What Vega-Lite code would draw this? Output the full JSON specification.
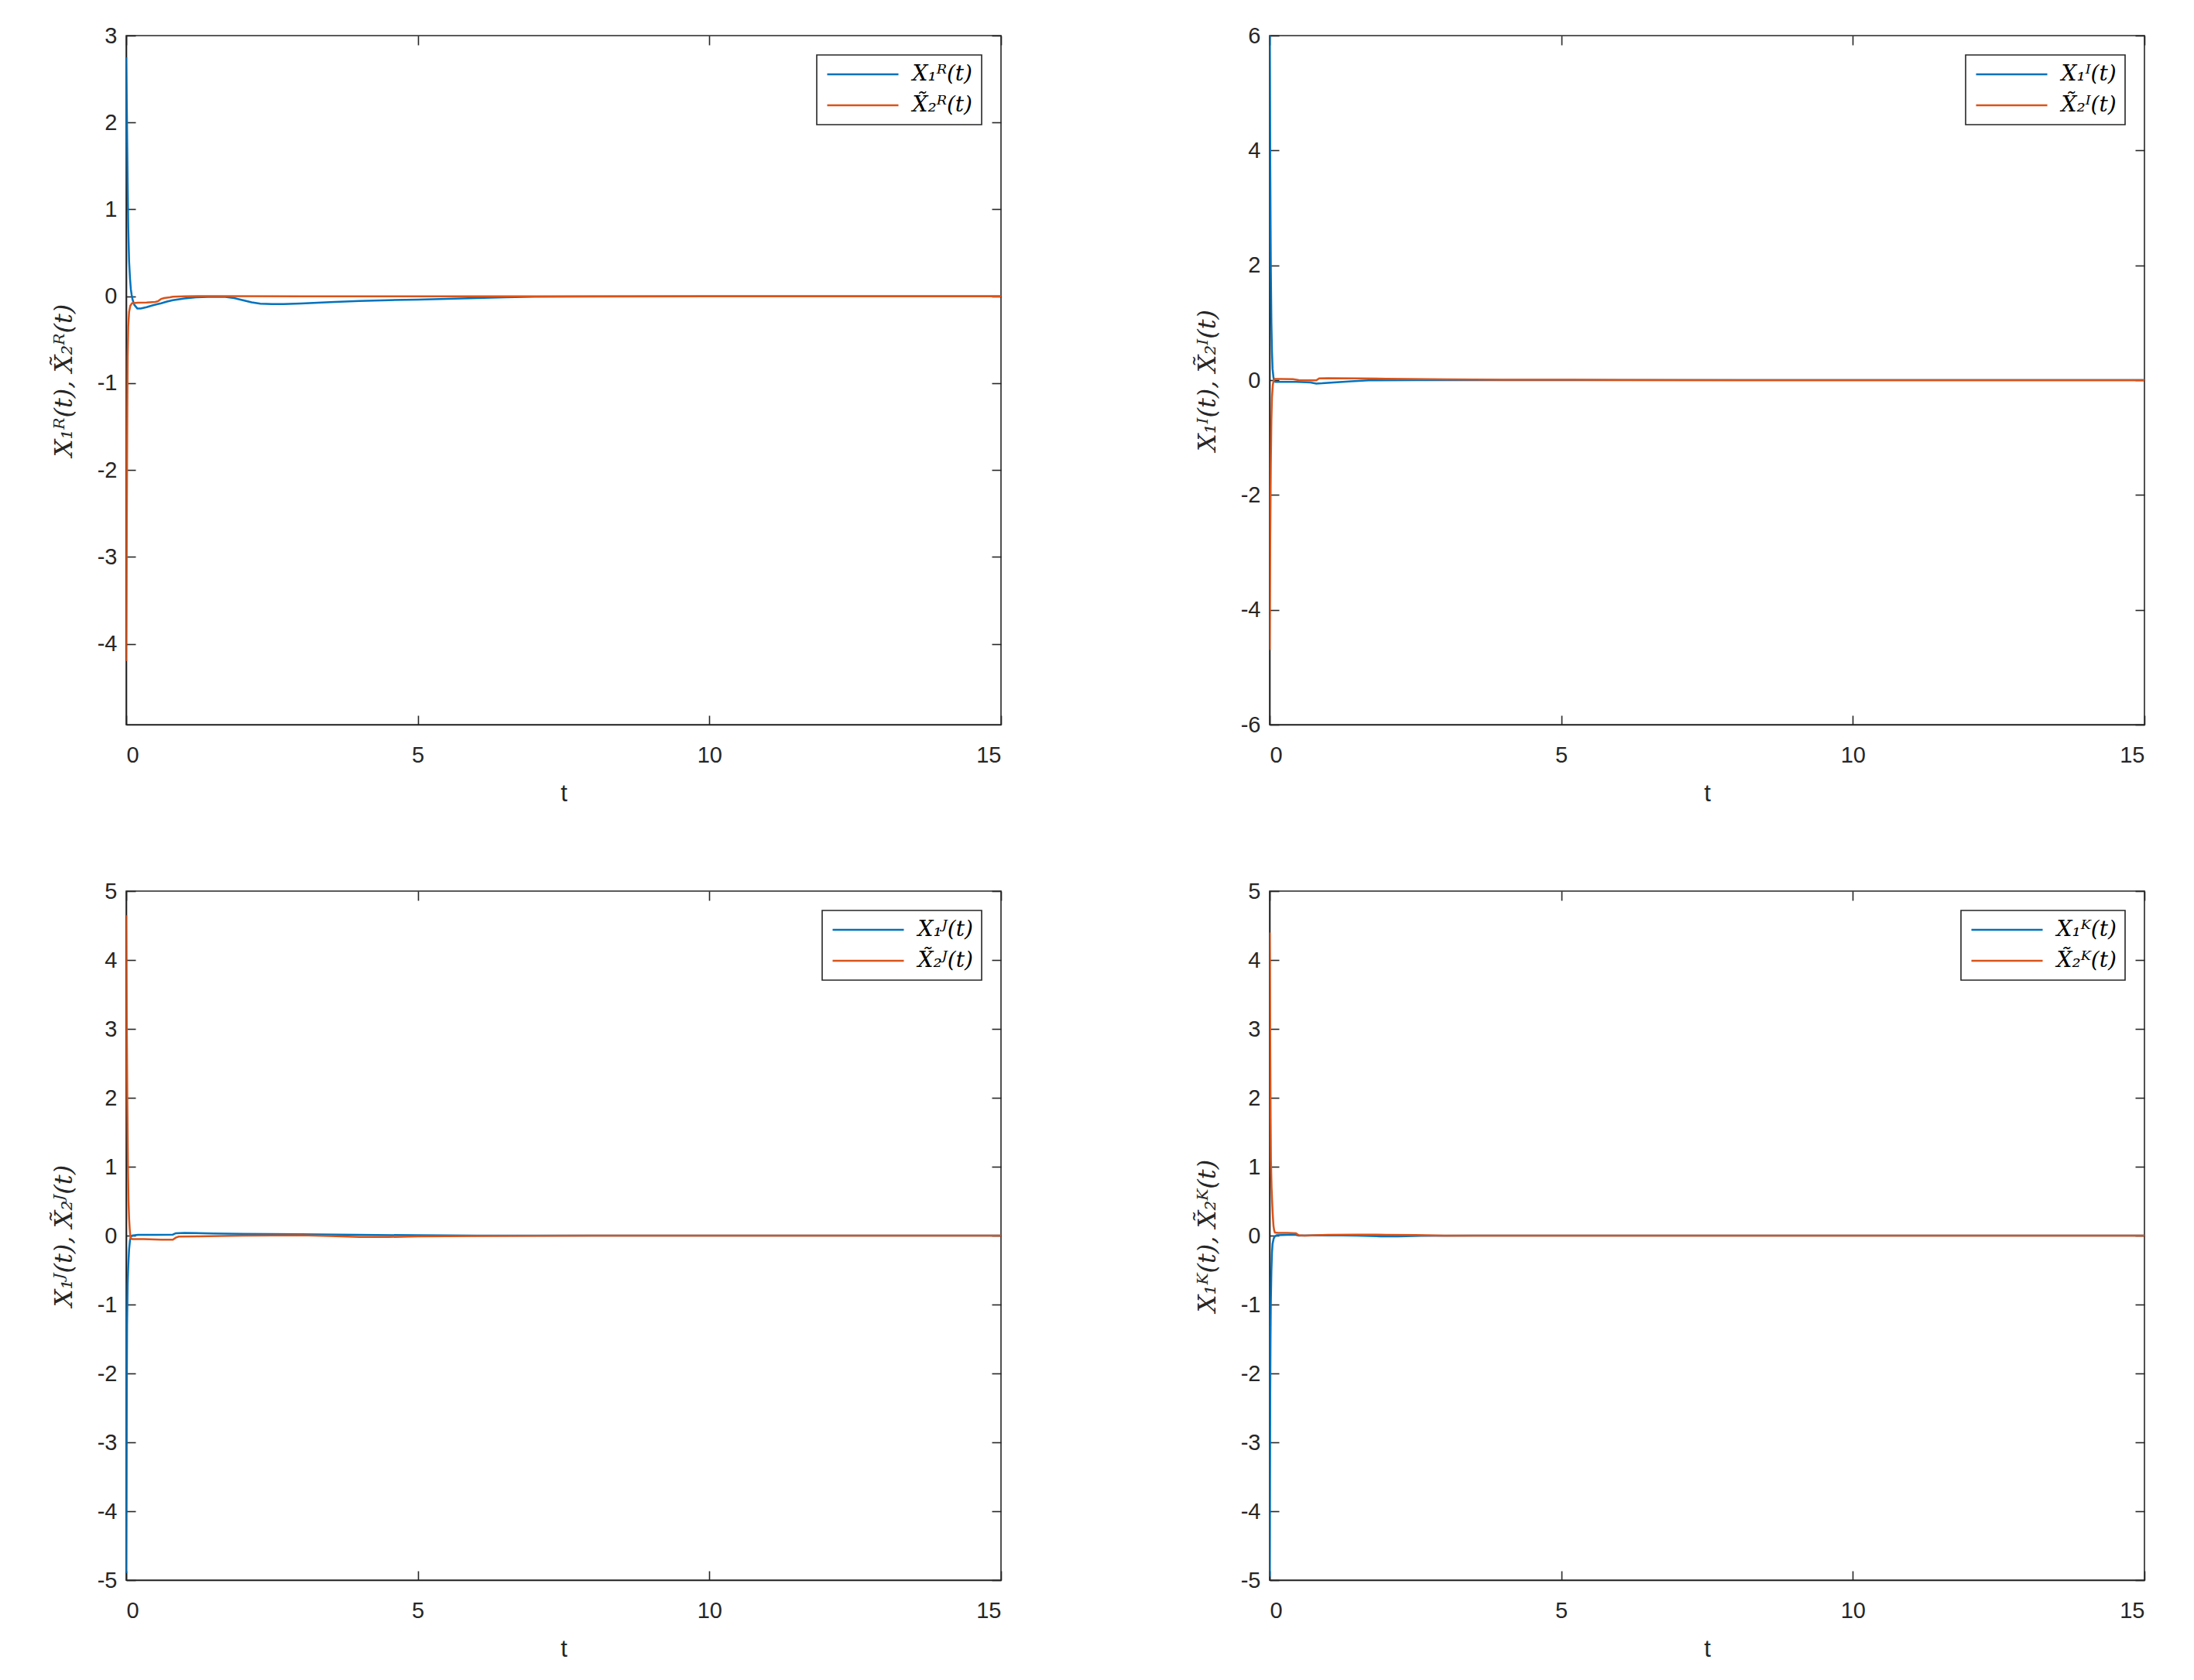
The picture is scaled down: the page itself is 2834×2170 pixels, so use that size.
{
  "$schema": "https://vega.github.io/schema/vega-lite/v6.json",
  "background": "white",
  "padding": {"left": 65, "top": 31, "right": 20, "bottom": 10},
  "datasets": {
    "R": [
      {"t": 0, "v": 2.75, "s": "X₁ᴿ(t)"}, {"t": 0.012, "v": 2.1, "s": "X₁ᴿ(t)"}, {"t": 0.025, "v": 1.3, "s": "X₁ᴿ(t)"}, {"t": 0.035, "v": 0.8, "s": "X₁ᴿ(t)"}, {"t": 0.05, "v": 0.4, "s": "X₁ᴿ(t)"}, {"t": 0.066, "v": 0.2, "s": "X₁ᴿ(t)"}, {"t": 0.08, "v": 0.08, "s": "X₁ᴿ(t)"}, {"t": 0.093, "v": 0.02, "s": "X₁ᴿ(t)"}, {"t": 0.11, "v": -0.04, "s": "X₁ᴿ(t)"}, {"t": 0.14, "v": -0.1, "s": "X₁ᴿ(t)"}, {"t": 0.19, "v": -0.14, "s": "X₁ᴿ(t)"}, {"t": 0.25, "v": -0.14, "s": "X₁ᴿ(t)"}, {"t": 0.35, "v": -0.125, "s": "X₁ᴿ(t)"}, {"t": 0.45, "v": -0.105, "s": "X₁ᴿ(t)"}, {"t": 0.54, "v": -0.09, "s": "X₁ᴿ(t)"}, {"t": 0.6, "v": -0.08, "s": "X₁ᴿ(t)"}, {"t": 0.7, "v": -0.06, "s": "X₁ᴿ(t)"}, {"t": 0.8, "v": -0.045, "s": "X₁ᴿ(t)"}, {"t": 1.0, "v": -0.025, "s": "X₁ᴿ(t)"}, {"t": 1.2, "v": -0.012, "s": "X₁ᴿ(t)"}, {"t": 1.5, "v": -0.006, "s": "X₁ᴿ(t)"}, {"t": 1.7, "v": -0.008, "s": "X₁ᴿ(t)"}, {"t": 1.85, "v": -0.02, "s": "X₁ᴿ(t)"}, {"t": 2.0, "v": -0.045, "s": "X₁ᴿ(t)"}, {"t": 2.15, "v": -0.07, "s": "X₁ᴿ(t)"}, {"t": 2.3, "v": -0.085, "s": "X₁ᴿ(t)"}, {"t": 2.5, "v": -0.09, "s": "X₁ᴿ(t)"}, {"t": 2.7, "v": -0.09, "s": "X₁ᴿ(t)"}, {"t": 3.0, "v": -0.082, "s": "X₁ᴿ(t)"}, {"t": 3.5, "v": -0.068, "s": "X₁ᴿ(t)"}, {"t": 4.0, "v": -0.055, "s": "X₁ᴿ(t)"}, {"t": 4.5, "v": -0.045, "s": "X₁ᴿ(t)"}, {"t": 5.0, "v": -0.038, "s": "X₁ᴿ(t)"}, {"t": 5.5, "v": -0.03, "s": "X₁ᴿ(t)"}, {"t": 6.0, "v": -0.02, "s": "X₁ᴿ(t)"}, {"t": 6.5, "v": -0.012, "s": "X₁ᴿ(t)"}, {"t": 7.0, "v": -0.006, "s": "X₁ᴿ(t)"}, {"t": 8.0, "v": -0.002, "s": "X₁ᴿ(t)"}, {"t": 10, "v": 0, "s": "X₁ᴿ(t)"}, {"t": 15, "v": 0, "s": "X₁ᴿ(t)"},
      {"t": 0, "v": -4.2, "s": "X̃₂ᴿ(t)"}, {"t": 0.005, "v": -3.5, "s": "X̃₂ᴿ(t)"}, {"t": 0.01, "v": -2.7, "s": "X̃₂ᴿ(t)"}, {"t": 0.015, "v": -1.9, "s": "X̃₂ᴿ(t)"}, {"t": 0.02, "v": -1.2, "s": "X̃₂ᴿ(t)"}, {"t": 0.025, "v": -0.7, "s": "X̃₂ᴿ(t)"}, {"t": 0.035, "v": -0.35, "s": "X̃₂ᴿ(t)"}, {"t": 0.05, "v": -0.18, "s": "X̃₂ᴿ(t)"}, {"t": 0.07, "v": -0.11, "s": "X̃₂ᴿ(t)"}, {"t": 0.1, "v": -0.08, "s": "X̃₂ᴿ(t)"}, {"t": 0.2, "v": -0.075, "s": "X̃₂ᴿ(t)"}, {"t": 0.35, "v": -0.072, "s": "X̃₂ᴿ(t)"}, {"t": 0.5, "v": -0.065, "s": "X̃₂ᴿ(t)"}, {"t": 0.55, "v": -0.055, "s": "X̃₂ᴿ(t)"}, {"t": 0.6, "v": -0.03, "s": "X̃₂ᴿ(t)"}, {"t": 0.65, "v": -0.02, "s": "X̃₂ᴿ(t)"}, {"t": 0.75, "v": -0.012, "s": "X̃₂ᴿ(t)"}, {"t": 0.8, "v": -0.005, "s": "X̃₂ᴿ(t)"}, {"t": 1.0, "v": 0, "s": "X̃₂ᴿ(t)"}, {"t": 1.5, "v": 0.002, "s": "X̃₂ᴿ(t)"}, {"t": 3.0, "v": 0, "s": "X̃₂ᴿ(t)"}, {"t": 15, "v": 0, "s": "X̃₂ᴿ(t)"}
    ],
    "I": [
      {"t": 0, "v": 6.0, "s": "X₁ᴵ(t)"}, {"t": 0.005, "v": 5.0, "s": "X₁ᴵ(t)"}, {"t": 0.01, "v": 3.8, "s": "X₁ᴵ(t)"}, {"t": 0.02, "v": 2.0, "s": "X₁ᴵ(t)"}, {"t": 0.03, "v": 1.0, "s": "X₁ᴵ(t)"}, {"t": 0.04, "v": 0.5, "s": "X₁ᴵ(t)"}, {"t": 0.05, "v": 0.2, "s": "X₁ᴵ(t)"}, {"t": 0.065, "v": 0.05, "s": "X₁ᴵ(t)"}, {"t": 0.08, "v": -0.02, "s": "X₁ᴵ(t)"}, {"t": 0.1, "v": -0.03, "s": "X₁ᴵ(t)"}, {"t": 0.3, "v": -0.03, "s": "X₁ᴵ(t)"}, {"t": 0.45, "v": -0.03, "s": "X₁ᴵ(t)"}, {"t": 0.55, "v": -0.035, "s": "X₁ᴵ(t)"}, {"t": 0.7, "v": -0.04, "s": "X₁ᴵ(t)"}, {"t": 0.8, "v": -0.06, "s": "X₁ᴵ(t)"}, {"t": 0.9, "v": -0.055, "s": "X₁ᴵ(t)"}, {"t": 1.1, "v": -0.04, "s": "X₁ᴵ(t)"}, {"t": 1.4, "v": -0.02, "s": "X₁ᴵ(t)"}, {"t": 1.7, "v": -0.005, "s": "X₁ᴵ(t)"}, {"t": 2.5, "v": 0, "s": "X₁ᴵ(t)"}, {"t": 15, "v": 0, "s": "X₁ᴵ(t)"},
      {"t": 0, "v": -4.7, "s": "X̃₂ᴵ(t)"}, {"t": 0.005, "v": -3.8, "s": "X̃₂ᴵ(t)"}, {"t": 0.01, "v": -2.8, "s": "X̃₂ᴵ(t)"}, {"t": 0.02, "v": -1.5, "s": "X̃₂ᴵ(t)"}, {"t": 0.03, "v": -0.7, "s": "X̃₂ᴵ(t)"}, {"t": 0.04, "v": -0.3, "s": "X̃₂ᴵ(t)"}, {"t": 0.055, "v": -0.08, "s": "X̃₂ᴵ(t)"}, {"t": 0.07, "v": 0, "s": "X̃₂ᴵ(t)"}, {"t": 0.09, "v": 0.02, "s": "X̃₂ᴵ(t)"}, {"t": 0.2, "v": 0.02, "s": "X̃₂ᴵ(t)"}, {"t": 0.4, "v": 0.018, "s": "X̃₂ᴵ(t)"}, {"t": 0.5, "v": 0, "s": "X̃₂ᴵ(t)"}, {"t": 0.6, "v": -0.005, "s": "X̃₂ᴵ(t)"}, {"t": 0.8, "v": -0.005, "s": "X̃₂ᴵ(t)"}, {"t": 0.85, "v": 0.03, "s": "X̃₂ᴵ(t)"}, {"t": 1.0, "v": 0.035, "s": "X̃₂ᴵ(t)"}, {"t": 1.5, "v": 0.03, "s": "X̃₂ᴵ(t)"}, {"t": 2.0, "v": 0.025, "s": "X̃₂ᴵ(t)"}, {"t": 3.0, "v": 0.015, "s": "X̃₂ᴵ(t)"}, {"t": 4.0, "v": 0.008, "s": "X̃₂ᴵ(t)"}, {"t": 6.0, "v": 0.005, "s": "X̃₂ᴵ(t)"}, {"t": 8.0, "v": 0, "s": "X̃₂ᴵ(t)"}, {"t": 15, "v": 0, "s": "X̃₂ᴵ(t)"}
    ],
    "J": [
      {"t": 0, "v": -4.9, "s": "X₁ᴶ(t)"}, {"t": 0.005, "v": -3.8, "s": "X₁ᴶ(t)"}, {"t": 0.01, "v": -2.3, "s": "X₁ᴶ(t)"}, {"t": 0.015, "v": -1.3, "s": "X₁ᴶ(t)"}, {"t": 0.025, "v": -0.7, "s": "X₁ᴶ(t)"}, {"t": 0.035, "v": -0.45, "s": "X₁ᴶ(t)"}, {"t": 0.05, "v": -0.2, "s": "X₁ᴶ(t)"}, {"t": 0.065, "v": -0.07, "s": "X₁ᴶ(t)"}, {"t": 0.08, "v": -0.02, "s": "X₁ᴶ(t)"}, {"t": 0.1, "v": 0, "s": "X₁ᴶ(t)"}, {"t": 0.2, "v": 0.01, "s": "X₁ᴶ(t)"}, {"t": 0.5, "v": 0.012, "s": "X₁ᴶ(t)"}, {"t": 0.8, "v": 0.015, "s": "X₁ᴶ(t)"}, {"t": 0.85, "v": 0.035, "s": "X₁ᴶ(t)"}, {"t": 1.0, "v": 0.04, "s": "X₁ᴶ(t)"}, {"t": 1.5, "v": 0.03, "s": "X₁ᴶ(t)"}, {"t": 2.0, "v": 0.025, "s": "X₁ᴶ(t)"}, {"t": 3.0, "v": 0.02, "s": "X₁ᴶ(t)"}, {"t": 4.0, "v": 0.01, "s": "X₁ᴶ(t)"}, {"t": 5.0, "v": 0.005, "s": "X₁ᴶ(t)"}, {"t": 6.0, "v": 0, "s": "X₁ᴶ(t)"}, {"t": 15, "v": 0, "s": "X₁ᴶ(t)"},
      {"t": 0, "v": 4.65, "s": "X̃₂ᴶ(t)"}, {"t": 0.005, "v": 3.9, "s": "X̃₂ᴶ(t)"}, {"t": 0.01, "v": 3.1, "s": "X̃₂ᴶ(t)"}, {"t": 0.02, "v": 1.9, "s": "X̃₂ᴶ(t)"}, {"t": 0.03, "v": 1.0, "s": "X̃₂ᴶ(t)"}, {"t": 0.04, "v": 0.5, "s": "X̃₂ᴶ(t)"}, {"t": 0.05, "v": 0.25, "s": "X̃₂ᴶ(t)"}, {"t": 0.06, "v": 0.1, "s": "X̃₂ᴶ(t)"}, {"t": 0.07, "v": 0, "s": "X̃₂ᴶ(t)"}, {"t": 0.08, "v": -0.04, "s": "X̃₂ᴶ(t)"}, {"t": 0.1, "v": -0.05, "s": "X̃₂ᴶ(t)"}, {"t": 0.3, "v": -0.05, "s": "X̃₂ᴶ(t)"}, {"t": 0.6, "v": -0.06, "s": "X̃₂ᴶ(t)"}, {"t": 0.8, "v": -0.06, "s": "X̃₂ᴶ(t)"}, {"t": 0.85, "v": -0.03, "s": "X̃₂ᴶ(t)"}, {"t": 0.9, "v": -0.015, "s": "X̃₂ᴶ(t)"}, {"t": 1.2, "v": -0.01, "s": "X̃₂ᴶ(t)"}, {"t": 2.0, "v": 0, "s": "X̃₂ᴶ(t)"}, {"t": 3.0, "v": 0.005, "s": "X̃₂ᴶ(t)"}, {"t": 3.5, "v": -0.005, "s": "X̃₂ᴶ(t)"}, {"t": 4.0, "v": -0.02, "s": "X̃₂ᴶ(t)"}, {"t": 4.5, "v": -0.02, "s": "X̃₂ᴶ(t)"}, {"t": 5.0, "v": -0.01, "s": "X̃₂ᴶ(t)"}, {"t": 6.0, "v": -0.005, "s": "X̃₂ᴶ(t)"}, {"t": 8.0, "v": 0, "s": "X̃₂ᴶ(t)"}, {"t": 15, "v": 0, "s": "X̃₂ᴶ(t)"}
    ],
    "K": [
      {"t": 0, "v": -4.95, "s": "X₁ᴷ(t)"}, {"t": 0.005, "v": -3.5, "s": "X₁ᴷ(t)"}, {"t": 0.01, "v": -2.3, "s": "X₁ᴷ(t)"}, {"t": 0.015, "v": -1.5, "s": "X₁ᴷ(t)"}, {"t": 0.02, "v": -1.0, "s": "X₁ᴷ(t)"}, {"t": 0.03, "v": -0.52, "s": "X₁ᴷ(t)"}, {"t": 0.04, "v": -0.25, "s": "X₁ᴷ(t)"}, {"t": 0.05, "v": -0.12, "s": "X₁ᴷ(t)"}, {"t": 0.07, "v": -0.04, "s": "X₁ᴷ(t)"}, {"t": 0.09, "v": -0.01, "s": "X₁ᴷ(t)"}, {"t": 0.12, "v": 0.005, "s": "X₁ᴷ(t)"}, {"t": 0.3, "v": 0.01, "s": "X₁ᴷ(t)"}, {"t": 0.45, "v": 0.01, "s": "X₁ᴷ(t)"}, {"t": 0.5, "v": 0, "s": "X₁ᴷ(t)"}, {"t": 1.0, "v": 0.005, "s": "X₁ᴷ(t)"}, {"t": 1.5, "v": 0, "s": "X₁ᴷ(t)"}, {"t": 1.9, "v": -0.01, "s": "X₁ᴷ(t)"}, {"t": 2.2, "v": -0.01, "s": "X₁ᴷ(t)"}, {"t": 2.6, "v": -0.003, "s": "X₁ᴷ(t)"}, {"t": 3.5, "v": 0, "s": "X₁ᴷ(t)"}, {"t": 15, "v": 0, "s": "X₁ᴷ(t)"},
      {"t": 0, "v": 4.4, "s": "X̃₂ᴷ(t)"}, {"t": 0.004, "v": 4.0, "s": "X̃₂ᴷ(t)"}, {"t": 0.01, "v": 2.8, "s": "X̃₂ᴷ(t)"}, {"t": 0.016, "v": 1.8, "s": "X̃₂ᴷ(t)"}, {"t": 0.022, "v": 1.1, "s": "X̃₂ᴷ(t)"}, {"t": 0.033, "v": 0.7, "s": "X̃₂ᴷ(t)"}, {"t": 0.044, "v": 0.47, "s": "X̃₂ᴷ(t)"}, {"t": 0.055, "v": 0.28, "s": "X̃₂ᴷ(t)"}, {"t": 0.066, "v": 0.14, "s": "X̃₂ᴷ(t)"}, {"t": 0.077, "v": 0.08, "s": "X̃₂ᴷ(t)"}, {"t": 0.09, "v": 0.045, "s": "X̃₂ᴷ(t)"}, {"t": 0.15, "v": 0.04, "s": "X̃₂ᴷ(t)"}, {"t": 0.3, "v": 0.04, "s": "X̃₂ᴷ(t)"}, {"t": 0.45, "v": 0.035, "s": "X̃₂ᴷ(t)"}, {"t": 0.5, "v": 0.005, "s": "X̃₂ᴷ(t)"}, {"t": 0.6, "v": 0, "s": "X̃₂ᴷ(t)"}, {"t": 1.0, "v": 0.01, "s": "X̃₂ᴷ(t)"}, {"t": 1.5, "v": 0.015, "s": "X̃₂ᴷ(t)"}, {"t": 2.0, "v": 0.012, "s": "X̃₂ᴷ(t)"}, {"t": 2.5, "v": 0.008, "s": "X̃₂ᴷ(t)"}, {"t": 3.0, "v": 0, "s": "X̃₂ᴷ(t)"}, {"t": 15, "v": 0, "s": "X̃₂ᴷ(t)"}
    ]
  },
  "columns": 2,
  "spacing": {"row": 215, "column": 347},
  "bounds": "flush",
  "resolve": {"scale": {"color": "independent", "x": "independent", "y": "independent"}, "legend": {"color": "independent"}},
  "concat": [
    {
      "width": 1130, "height": 890,
      "data": {"name": "R"},
      "layer": [
        {"mark": {"type": "line", "strokeWidth": 2.5, "clip": true},
         "encoding": {
           "x": {"field": "t", "type": "quantitative", "scale": {"domain": [0, 15], "nice": false, "zero": false}, "axis": {"values": [0, 5, 10, 15], "title": "t"}},
           "y": {"field": "v", "type": "quantitative", "scale": {"domain": [-4.93, 3], "nice": false, "zero": false}, "axis": {"values": [-4, -3, -2, -1, 0, 1, 2, 3], "title": "X₁ᴿ(t), X̃₂ᴿ(t)"}},
           "color": {"field": "s", "type": "nominal", "scale": {"domain": ["X₁ᴿ(t)", "X̃₂ᴿ(t)"], "range": ["#0072BD", "#D95319"]}, "legend": {"title": null, "orient": "top-right"}}
         }},
        {"mark": {"type": "line", "opacity": 0},
         "encoding": {
           "x": {"field": "t", "type": "quantitative", "axis": {"orient": "top", "labels": false, "title": null, "domain": false, "values": [0, 5, 10, 15]}},
           "y": {"field": "v", "type": "quantitative", "axis": {"orient": "right", "labels": false, "title": null, "domain": false, "values": [-4, -3, -2, -1, 0, 1, 2, 3]}}
         }}
      ],
      "resolve": {"axis": {"x": "independent", "y": "independent"}}
    },
    {
      "width": 1130, "height": 890,
      "data": {"name": "I"},
      "layer": [
        {"mark": {"type": "line", "strokeWidth": 2.5, "clip": true},
         "encoding": {
           "x": {"field": "t", "type": "quantitative", "scale": {"domain": [0, 15], "nice": false, "zero": false}, "axis": {"values": [0, 5, 10, 15], "title": "t"}},
           "y": {"field": "v", "type": "quantitative", "scale": {"domain": [-6, 6], "nice": false, "zero": false}, "axis": {"values": [-6, -4, -2, 0, 2, 4, 6], "title": "X₁ᴵ(t), X̃₂ᴵ(t)"}},
           "color": {"field": "s", "type": "nominal", "scale": {"domain": ["X₁ᴵ(t)", "X̃₂ᴵ(t)"], "range": ["#0072BD", "#D95319"]}, "legend": {"title": null, "orient": "top-right"}}
         }},
        {"mark": {"type": "line", "opacity": 0},
         "encoding": {
           "x": {"field": "t", "type": "quantitative", "axis": {"orient": "top", "labels": false, "title": null, "domain": false, "values": [0, 5, 10, 15]}},
           "y": {"field": "v", "type": "quantitative", "axis": {"orient": "right", "labels": false, "title": null, "domain": false, "values": [-6, -4, -2, 0, 2, 4, 6]}}
         }}
      ],
      "resolve": {"axis": {"x": "independent", "y": "independent"}}
    },
    {
      "width": 1130, "height": 890,
      "data": {"name": "J"},
      "layer": [
        {"mark": {"type": "line", "strokeWidth": 2.5, "clip": true},
         "encoding": {
           "x": {"field": "t", "type": "quantitative", "scale": {"domain": [0, 15], "nice": false, "zero": false}, "axis": {"values": [0, 5, 10, 15], "title": "t"}},
           "y": {"field": "v", "type": "quantitative", "scale": {"domain": [-5, 5], "nice": false, "zero": false}, "axis": {"values": [-5, -4, -3, -2, -1, 0, 1, 2, 3, 4, 5], "title": "X₁ᴶ(t), X̃₂ᴶ(t)"}},
           "color": {"field": "s", "type": "nominal", "scale": {"domain": ["X₁ᴶ(t)", "X̃₂ᴶ(t)"], "range": ["#0072BD", "#D95319"]}, "legend": {"title": null, "orient": "top-right"}}
         }},
        {"mark": {"type": "line", "opacity": 0},
         "encoding": {
           "x": {"field": "t", "type": "quantitative", "axis": {"orient": "top", "labels": false, "title": null, "domain": false, "values": [0, 5, 10, 15]}},
           "y": {"field": "v", "type": "quantitative", "axis": {"orient": "right", "labels": false, "title": null, "domain": false, "values": [-5, -4, -3, -2, -1, 0, 1, 2, 3, 4, 5]}}
         }}
      ],
      "resolve": {"axis": {"x": "independent", "y": "independent"}}
    },
    {
      "width": 1130, "height": 890,
      "data": {"name": "K"},
      "layer": [
        {"mark": {"type": "line", "strokeWidth": 2.5, "clip": true},
         "encoding": {
           "x": {"field": "t", "type": "quantitative", "scale": {"domain": [0, 15], "nice": false, "zero": false}, "axis": {"values": [0, 5, 10, 15], "title": "t"}},
           "y": {"field": "v", "type": "quantitative", "scale": {"domain": [-5, 5], "nice": false, "zero": false}, "axis": {"values": [-5, -4, -3, -2, -1, 0, 1, 2, 3, 4, 5], "title": "X₁ᴷ(t), X̃₂ᴷ(t)"}},
           "color": {"field": "s", "type": "nominal", "scale": {"domain": ["X₁ᴷ(t)", "X̃₂ᴷ(t)"], "range": ["#0072BD", "#D95319"]}, "legend": {"title": null, "orient": "top-right"}}
         }},
        {"mark": {"type": "line", "opacity": 0},
         "encoding": {
           "x": {"field": "t", "type": "quantitative", "axis": {"orient": "top", "labels": false, "title": null, "domain": false, "values": [0, 5, 10, 15]}},
           "y": {"field": "v", "type": "quantitative", "axis": {"orient": "right", "labels": false, "title": null, "domain": false, "values": [-5, -4, -3, -2, -1, 0, 1, 2, 3, 4, 5]}}
         }}
      ],
      "resolve": {"axis": {"x": "independent", "y": "independent"}}
    }
  ],
  "config": {
    "view": {"stroke": "#262626", "strokeWidth": 1.6},
    "axis": {
      "grid": false,
      "domainColor": "#262626", "domainWidth": 1.6,
      "tickColor": "#262626", "tickWidth": 1.6, "tickSize": -12,
      "labelFont": "Liberation Sans", "labelFontSize": 29, "labelColor": "#262626",
      "labelExpr": "replace(datum.label, '−', '-')",
      "titleColor": "#262626", "titleFontWeight": "normal"
    },
    "axisX": {"labelPadding": 37, "titleFont": "Liberation Sans", "titleFontSize": 31, "titlePadding": 20},
    "axisY": {"labelPadding": 24, "titleFont": "DejaVu Serif", "titleFontStyle": "italic", "titleFontSize": 32, "titlePadding": 26},
    "legend": {
      "offset": 25, "strokeColor": "#262626", "strokeWidth": 1.6, "fillColor": "white", "padding": 11, "cornerRadius": 0,
      "symbolType": "M-4,0H4", "symbolSize": 529, "symbolOffset": 34.5, "symbolStrokeWidth": 2.5,
      "labelFont": "DejaVu Serif", "labelFontStyle": "italic", "labelFontSize": 28, "labelColor": "#000000",
      "labelOffset": 50, "rowPadding": 12
    }
  }
}
